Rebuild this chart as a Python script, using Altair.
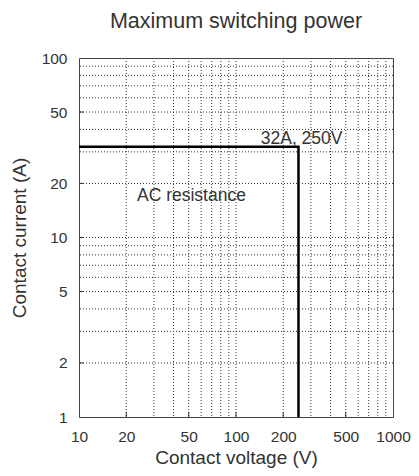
import altair as alt
import pandas as pd

# Series: maximum switching power boundary (AC resistance)
voltage = [10, 250, 250]
current = [32, 32, 1]
order = [0, 1, 2]

# Axis tick labels
x_ticks = [10, 20, 50, 100, 200, 500, 1000]
y_ticks = [1, 2, 5, 10, 20, 50, 100]

# Minor/major grid values
x_grid = [20, 30, 40, 50, 60, 70, 80, 90, 100, 200, 300, 400, 500, 600, 700, 800, 900]
y_grid = [2, 3, 4, 5, 6, 7, 8, 9, 10, 20, 30, 40, 50, 60, 70, 80, 90]

# Inner tick marks
x_inner = [20, 50, 100, 200, 500]
y_inner = [2, 5, 10, 20, 50]

W, H = 314, 359
FONT = "Liberation Sans"
TXT = "#333333"

xs = alt.Scale(type="log", domain=[10, 1000], nice=False)
ys = alt.Scale(type="log", domain=[1, 100], nice=False)

x_axis = alt.Axis(
    values=x_ticks, title="Contact voltage (V)", grid=False, ticks=False,
    domain=False, labelFlush=False, labelPadding=12, titlePadding=4, format="d",
)
y_axis = alt.Axis(
    values=y_ticks, title="Contact current (A)", grid=False, ticks=False,
    domain=False, labelFlush=False, labelPadding=12, titlePadding=12, format="d",
)

X = alt.X("voltage:Q", scale=xs, axis=x_axis)
Y = alt.Y("current:Q", scale=ys, axis=y_axis)

grid_style = dict(color="#333333", strokeDash=[1, 2], strokeWidth=1)

line_df = pd.DataFrame({"voltage": voltage, "current": current, "order": order})
line = alt.Chart(line_df).mark_line(color="black", strokeWidth=2.5, strokeJoin="miter").encode(
    x=X, y=Y, order="order:O",
)

vgrid = alt.Chart(pd.DataFrame({"voltage": x_grid})).mark_rule(**grid_style).encode(x=X)
hgrid = alt.Chart(pd.DataFrame({"current": y_grid})).mark_rule(**grid_style).encode(y=Y)

xtick = alt.Chart(pd.DataFrame({"voltage": x_inner})).mark_rule(color="#333333", strokeWidth=1).encode(
    x=X, y=alt.value(H), y2=alt.value(H - 5)
)
ytick = alt.Chart(pd.DataFrame({"current": y_inner})).mark_rule(color="#333333", strokeWidth=1).encode(
    y=Y, x=alt.value(0), x2=alt.value(5)
)

lab1 = alt.Chart(pd.DataFrame({"voltage": [250], "current": [32], "t": ["32A, 250V"]})).mark_text(
    align="right", baseline="alphabetic", dx=44, dy=-3, font=FONT, fontSize=17.5, color=TXT
).encode(x=X, y=Y, text="t:N")

lab2 = alt.Chart(pd.DataFrame({"voltage": [23.4], "current": [16.0], "t": ["AC resistance"]})).mark_text(
    align="left", baseline="alphabetic", font=FONT, fontSize=17.5, color=TXT
).encode(x=X, y=Y, text="t:N")

chart = (
    alt.layer(line, vgrid, hgrid, xtick, ytick, lab1, lab2)
    .properties(
        width=W,
        height=H,
        title=alt.TitleParams("Maximum switching power", fontSize=21.5, font=FONT,
                              fontWeight="normal", color=TXT, offset=19, anchor="middle"),
        autosize=alt.AutoSizeParams(type="none"),
        padding={"left": 71, "top": 50, "right": 18, "bottom": 51},
    )
    .configure_view(stroke="#444444", strokeWidth=1)
    .configure_axis(
        labelFont=FONT, titleFont=FONT, labelFontSize=15.5, titleFontSize=19,
        labelColor=TXT, titleColor=TXT, titleFontWeight="normal",
    )
)

chart.save("out.html", embed_options={"renderer": "svg", "actions": False})
